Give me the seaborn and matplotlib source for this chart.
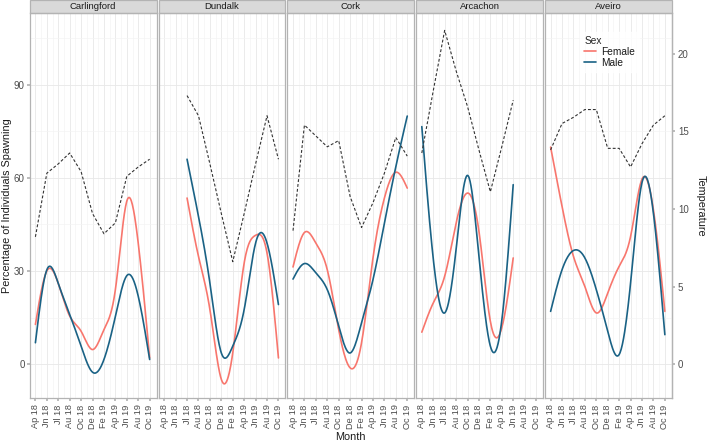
import numpy as np
import pandas as pd
import matplotlib
matplotlib.use("Agg")
import matplotlib.pyplot as plt
import seaborn as sns
from matplotlib.patches import Rectangle

# ---------------- data ----------------
sites = ["Carlingford", "Dundalk", "Cork", "Arcachon", "Aveiro"]
month_labels = ["Ap 18", "Jn 18", "Jl 18", "Au 18", "Oc 18", "De 18",
                "Fe 19", "Ap 19", "Jn 19", "Au 19", "Oc 19"]
nan = np.nan

# percentage of individuals spawning (smoothed curves, read at each sampling month)
female_carlingford = [12.8, 30.0, 26.0, 15.5, 10.6, 4.7, 11.1, 24.0, 52.5, 39.0, 2.0]
male_carlingford = [6.9, 30.4, 26.0, 16.0, 5.8, -2.6, 1.5, 15.4, 28.5, 21.9, 1.5]
female_dundalk = [nan, nan, 53.5, 34.7, 17.6, -4.9, 3.6, 32.6, 41.5, 35.8, 2.0]
male_dundalk = [nan, nan, 66.0, 47.6, 26.1, 3.6, 5.8, 17.6, 39.0, 39.0, 19.2]
female_cork = [31.3, 42.4, 39.0, 30.4, 11.1, -1.2, 6.9, 34.2, 53.5, 61.8, 56.7]
male_cork = [27.4, 32.4, 29.4, 24.0, 12.2, 3.6, 13.3, 27.2, 45.4, 63.6, 79.9]
female_arcachon = [10.3, 19.7, 28.3, 45.4, 55.1, 42.8, 13.8, 11.7, 34.2, nan, nan]
male_arcachon = [76.5, 34.0, 16.5, 36.9, 60.8, 34.7, 5.8, 14.0, 57.8, nan, nan]
female_aveiro = [69.9, 50.8, 34.7, 25.0, 16.5, 22.9, 31.5, 41.1, 59.6, 49.7, 17.0]
male_aveiro = [17.0, 30.4, 36.6, 34.2, 24.0, 10.6, 3.1, 26.1, 58.5, 48.6, 9.5]

# temperature (deg C)
temp_carlingford = [8.2, 12.3, 12.9, 13.6, 12.4, 9.7, 8.4, 9.1, 12.1, 12.7, 13.2]
temp_dundalk = [nan, nan, 17.3, 16.0, 12.9, 9.7, 6.6, 9.7, 12.9, 16.0, 13.2]
temp_cork = [8.6, 15.4, 14.7, 14.0, 14.4, 10.8, 8.8, 10.4, 12.3, 14.6, 13.4]
temp_arcachon = [13.6, 17.6, 21.5, 18.9, 16.6, 13.8, 11.1, 14.0, 17.0, nan, nan]
temp_aveiro = [13.8, 15.5, 15.9, 16.4, 16.4, 13.9, 13.9, 12.7, 14.2, 15.4, 16.0]

female = dict(zip(sites, [female_carlingford, female_dundalk, female_cork, female_arcachon, female_aveiro]))
male = dict(zip(sites, [male_carlingford, male_dundalk, male_cork, male_arcachon, male_aveiro]))
temperature = dict(zip(sites, [temp_carlingford, temp_dundalk, temp_cork, temp_arcachon, temp_aveiro]))

TEMP_SCALE = 5.0  # secondary axis: temperature = percentage / 5


def natural_spline(x, y, xs):
    x = np.asarray(x, float)
    y = np.asarray(y, float)
    n = len(x)
    h = np.diff(x)
    A = np.zeros((n, n))
    b = np.zeros(n)
    A[0, 0] = 1
    A[-1, -1] = 1
    for i in range(1, n - 1):
        A[i, i - 1] = h[i - 1]
        A[i, i] = 2 * (h[i - 1] + h[i])
        A[i, i + 1] = h[i]
        b[i] = 3 * ((y[i + 1] - y[i]) / h[i] - (y[i] - y[i - 1]) / h[i - 1])
    c = np.linalg.solve(A, b)
    out = np.empty_like(xs)
    for k, xv in enumerate(xs):
        i = min(max(np.searchsorted(x, xv) - 1, 0), n - 2)
        dx = xv - x[i]
        bb = (y[i + 1] - y[i]) / h[i] - h[i] * (2 * c[i] + c[i + 1]) / 3
        d = (c[i + 1] - c[i]) / (3 * h[i])
        out[k] = y[i] + bb * dx + c[i] * dx ** 2 + d * dx ** 3
    return out


rows = []
trows = []
for s in sites:
    for sex, src in (("Female", female), ("Male", male)):
        v = np.asarray(src[s], float)
        idx = np.arange(len(v))
        ok = ~np.isnan(v)
        xs = np.linspace(idx[ok].min(), idx[ok].max(), 200)
        ys = natural_spline(idx[ok], v[ok], xs)
        for xv, yv in zip(xs, ys):
            rows.append((s, sex, xv, yv))
    tv = np.asarray(temperature[s], float)
    for i, t in enumerate(tv):
        if not np.isnan(t):
            trows.append((s, i, t * TEMP_SCALE))

curves = pd.DataFrame(rows, columns=["Site", "Sex", "x", "pct"])
temps = pd.DataFrame(trows, columns=["Site", "x", "temp_scaled"])

# ---------------- style ----------------
sns.set_theme(style="white")
plt.rcParams["font.family"] = ["Liberation Sans", "DejaVu Sans"]

W, H = 709, 444
fig = plt.figure(figsize=(W / 100, H / 100), dpi=100)
left_px, right_px, top_px, bottom_px = 29.7, 671.7, 13.3, 398.3
gap = 2.0
pw = (right_px - left_px - 4 * gap) / 5
ph = bottom_px - top_px
strip_h = 13.3

palette = {"Female": "#F8766D", "Male": "#1A6285"}
border = "#B3B3B3"
axes = []
for k, s in enumerate(sites):
    x0 = left_px + k * (pw + gap)
    ax = fig.add_axes([x0 / W, 1 - bottom_px / H, pw / W, ph / H],
                      sharey=axes[0] if axes else None)
    axes.append(ax)
    sub = curves[curves.Site == s]
    sns.lineplot(data=sub, x="x", y="pct", hue="Sex", palette=palette,
                 linewidth=1.2, legend=(k == len(sites) - 1), ax=ax, estimator=None, sort=False)
    tsub = temps[temps.Site == s]
    sns.lineplot(data=tsub, x="x", y="temp_scaled", color="#333333", linewidth=0.8,
                 linestyle=(0, (2.6, 1.8)), ax=ax, estimator=None)

    ax.set_xlim(-0.5, 10.6)
    ax.set_ylim(-11, 113)
    ax.set_xticks(range(len(month_labels)))
    ax.set_xticklabels(month_labels)
    ax.set_xticks(np.arange(0.5, 10.0, 1.0), minor=True)
    ax.set_yticks([0, 30, 60, 90])
    ax.set_yticks([15, 45, 75, 105], minor=True)
    ax.grid(which="major", color="#E8E8E8", linewidth=0.6)
    ax.grid(which="minor", color="#F3F3F3", linewidth=0.45)
    ax.set_axisbelow(True)
    for sp in ax.spines.values():
        sp.set_color(border)
        sp.set_linewidth(0.9)
    ax.tick_params(axis="x", which="major", length=2.5, color=border, labelsize=6.6,
                   labelcolor="#4D4D4D", labelrotation=90, pad=2, bottom=True)
    ax.tick_params(which="minor", length=0)
    if k == 0:
        ax.tick_params(axis="y", which="major", length=2.5, color=border, labelsize=7.0,
                       labelcolor="#4D4D4D", left=True, pad=1)
    else:
        ax.tick_params(axis="y", which="major", length=0, labelleft=False)
    ax.set_ylabel("")
    ax.set_xlabel("")

    hh = strip_h / ph
    ax.add_patch(Rectangle((0, 1), 1, hh, transform=ax.transAxes, clip_on=False,
                           facecolor="#D9D9D9", edgecolor=border, linewidth=0.9))
    ax.text(0.5, 1 + hh / 2, s, transform=ax.transAxes, ha="center", va="center",
            fontsize=6.8, color="#1A1A1A")

# secondary temperature axis on the right
last = axes[-1]
sec = last.secondary_yaxis("right", functions=(lambda v: v / TEMP_SCALE, lambda t: t * TEMP_SCALE))
sec.set_yticks([0, 5, 10, 15, 20])
sec.tick_params(length=2.5, color=border, labelsize=7.0, labelcolor="#4D4D4D", pad=2)
sec.spines["right"].set_color(border)
sec.spines["right"].set_linewidth(0.9)
sec.set_ylabel("Temperature", rotation=270, fontsize=7.8, color="#1A1A1A", labelpad=12)

# legend
handles, labels = last.get_legend_handles_labels()
leg = last.legend(handles, labels, title="Sex", loc="upper left", bbox_to_anchor=(0.24, 0.965),
                  frameon=True, fontsize=7.3, title_fontsize=7.3, handlelength=1.1, handletextpad=0.5,
                  labelspacing=0.1, borderpad=0.4, alignment="left")
leg.get_frame().set_facecolor("white")
leg.get_frame().set_edgecolor("white")
for t in leg.get_texts():
    t.set_color("#1A1A1A")

fig.text(7.5 / W, 1 - ((top_px + bottom_px) / 2) / H, "Percentage of Individuals Spawning",
         rotation=90, ha="center", va="center", fontsize=7.8, color="#1A1A1A")
fig.text(((left_px + right_px) / 2) / W, 1 - 437 / H, "Month", ha="center", va="center",
         fontsize=7.8, color="#1A1A1A")

fig.savefig("out.png", dpi=100)
